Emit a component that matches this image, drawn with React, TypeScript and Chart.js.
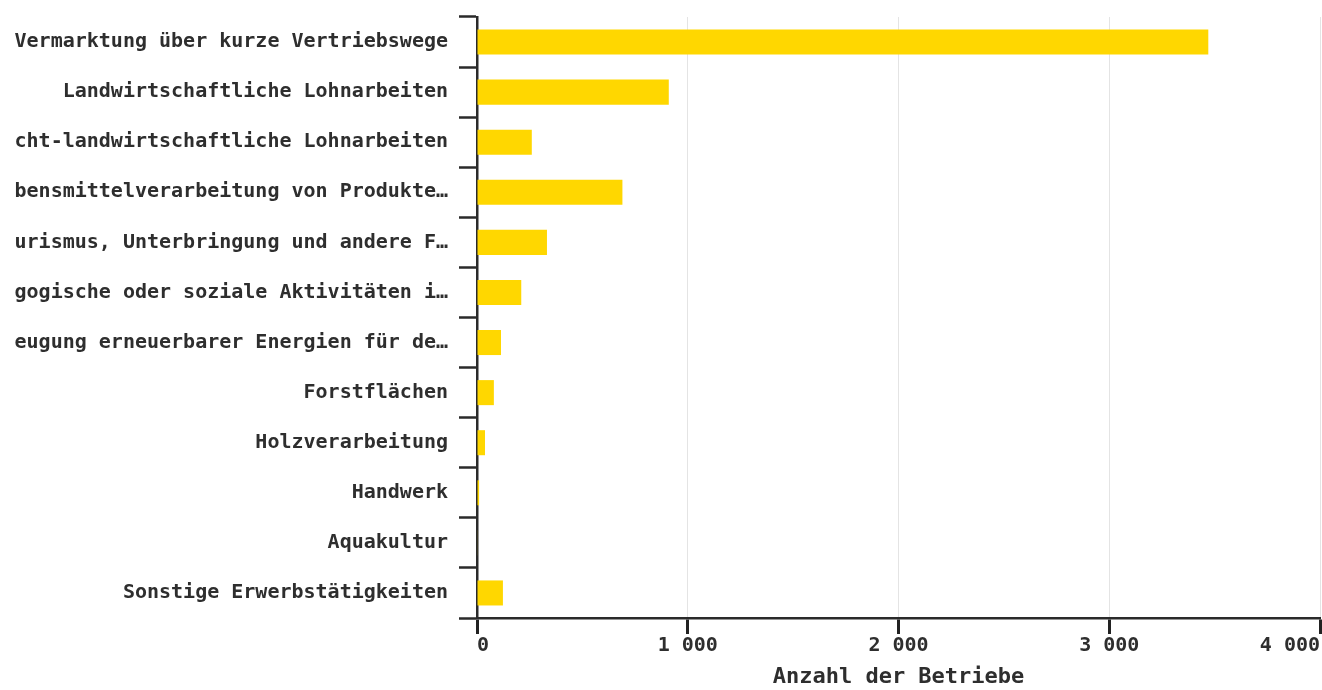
import { useEffect, useRef } from 'react';
import { Chart, registerables } from 'chart.js';

Chart.register(...registerables);

const categories = [
  'Vermarktung über kurze Vertriebswege',
  'Landwirtschaftliche Lohnarbeiten',
  'cht-landwirtschaftliche Lohnarbeiten',
  'bensmittelverarbeitung von Produkte…',
  'urismus, Unterbringung und andere F…',
  'gogische oder soziale Aktivitäten i…',
  'eugung erneuerbarer Energien für de…',
  'Forstflächen',
  'Holzverarbeitung',
  'Handwerk',
  'Aquakultur',
  'Sonstige Erwerbstätigkeiten',
];

const values = [3470, 910, 260, 690, 332, 210, 114, 80, 38, 10, 2, 123];

const xTicks = [0, 1000, 2000, 3000, 4000];

const axisTitle = 'Anzahl der Betriebe';

const FAMILY = '"DejaVu Sans Mono", "Liberation Mono", monospace';
const TEXT = '#2e2e2e';

function fmt(v: number): string {
  return String(v).replace(/\B(?=(\d{3})+(?!\d))/g, ' ');
}

export default function App() {
  const ref = useRef<HTMLCanvasElement>(null);

  useEffect(() => {
    if (!ref.current) return;
    const chart = new Chart(ref.current, {
      type: 'bar',
      data: {
        labels: categories,
        datasets: [
          {
            data: values,
            backgroundColor: '#FFD700',
            borderWidth: 0,
            barPercentage: 0.5,
            categoryPercentage: 1,
          },
        ],
      },
      options: {
        indexAxis: 'y',
        animation: false,
        responsive: false,
        maintainAspectRatio: false,
        layout: { padding: { top: 17, right: 2, left: 0, bottom: 0 } },
        plugins: {
          legend: { display: false },
          tooltip: { enabled: false },
        },
        scales: {
          x: {
            type: 'linear',
            position: 'bottom',
            min: 0,
            max: 4000,
            afterBuildTicks: (s: any) => {
              s.ticks = xTicks.map((v) => ({ value: v }));
            },
            ticks: {
              align: 'inner',
              padding: 0,
              color: TEXT,
              font: { family: FAMILY, size: 20, weight: 'bold' },
              callback: (v: any) => fmt(Number(v)),
            },
            grid: {
              color: '#e4e4e4',
              lineWidth: 1,
              tickColor: '#222222',
              tickWidth: 3,
              tickLength: 16,
            },
            border: { color: '#2a2a2a', width: 2.5 },
            title: {
              display: true,
              text: axisTitle,
              color: TEXT,
              font: { family: FAMILY, size: 22, weight: 'bold' },
              padding: { top: 6, bottom: 0 },
            },
            afterFit: (s: any) => {
              s.height = 72;
              s.paddingLeft = 0;
              s.paddingRight = 0;
            },
          },
          y: {
            type: 'category',
            ticks: {
              padding: 11,
              color: TEXT,
              font: { family: FAMILY, size: 20, weight: 'bold' },
            },
            grid: {
              drawOnChartArea: false,
              offset: true,
              tickColor: '#2a2a2a',
              tickWidth: 2.5,
              tickLength: 18,
            },
            border: { color: '#2a2a2a', width: 2.5 },
            afterFit: (s: any) => {
              s.width = 463;
              s.paddingTop = 0;
              s.paddingBottom = 0;
            },
          },
        },
      },
    } as any);
    return () => chart.destroy();
  }, []);

  return (
    <div style={{ position: 'absolute', left: 14, top: 0, width: 1308, height: 690 }}>
      <canvas ref={ref} width={1308} height={690} style={{ display: 'block' }} />
    </div>
  );
}
